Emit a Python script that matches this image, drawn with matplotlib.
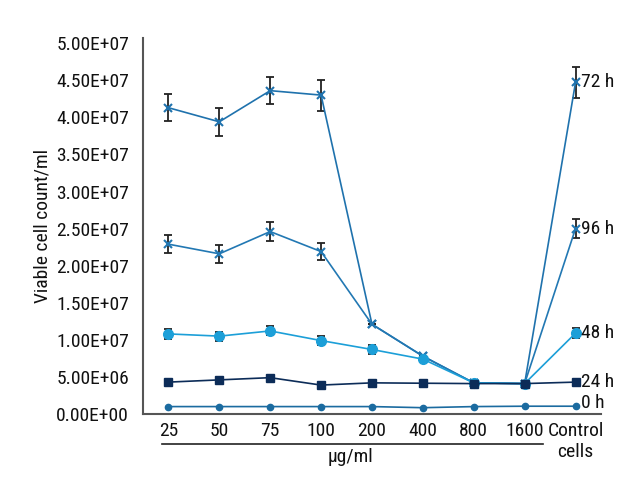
import matplotlib
matplotlib.use("Agg")
import matplotlib.pyplot as plt
import matplotlib.transforms as mtransforms
import numpy as np

plt.rcParams['font.family'] = ['Roboto Condensed', 'Open Sans Condensed', 'PT Sans Narrow', 'DejaVu Sans']

categories = ["25", "50", "75", "100", "200", "400", "800", "1600", "Control\ncells"]
series_names = ["72 h", "96 h", "48 h", "24 h", "0 h"]

v72 = [4.13e7, 3.94e7, 4.36e7, 4.30e7, 1.21e7, 7.8e6, 4.2e6, 4.1e6, 4.47e7]
e72 = [1.8e6, 1.9e6, 1.8e6, 2.1e6, 0, 0, 0, 0, 2.1e6]
v96 = [2.29e7, 2.16e7, 2.46e7, 2.19e7, 1.21e7, 7.8e6, 4.2e6, 4.1e6, 2.50e7]
e96 = [1.2e6, 1.2e6, 1.3e6, 1.1e6, 0, 0, 0, 0, 1.3e6]
v48 = [1.08e7, 1.05e7, 1.12e7, 9.9e6, 8.7e6, 7.4e6, 4.2e6, 4.1e6, 1.09e7]
e48 = [7e5, 6e5, 6e5, 6e5, 6e5, 0, 0, 0, 7e5]
v24 = [4.3e6, 4.6e6, 4.9e6, 3.9e6, 4.2e6, 4.15e6, 4.1e6, 4.1e6, 4.3e6]
v0 = [1.0e6, 1.0e6, 1.0e6, 1.0e6, 1.0e6, 0.85e6, 1.0e6, 1.05e6, 1.05e6]

yticks = np.arange(0, 5.01e7, 5e6)
ytick_labels = ["0.00E+00", "5.00E+06", "1.00E+07", "1.50E+07", "2.00E+07",
                "2.50E+07", "3.00E+07", "3.50E+07", "4.00E+07", "4.50E+07", "5.00E+07"]

fig = plt.figure(figsize=(6.4, 5.0), dpi=100)
ax = fig.add_axes([0.2234, 0.172, 0.7156, 0.752])
x = np.arange(len(categories))

c72 = "#1f72ad"
c96 = "#2278b3"
c48 = "#1c9fd8"
c24 = "#0c2c58"
c0 = "#1b6ba0"

def draw(vals, errs, color, marker, ms, mew=1.0):
    if errs is not None:
        ax.errorbar(x, vals, yerr=errs, fmt="none", ecolor="#222222", elinewidth=1.3,
                    capsize=3, capthick=1.3, zorder=2)
    ax.plot(x, vals, color=color, marker=marker, markersize=ms, linewidth=1.2,
            markeredgewidth=mew, zorder=3)

draw(v72, e72, c72, "x", 6, 1.5)
draw(v96, e96, c96, "x", 6, 1.5)
draw(v48, e48, c48, "o", 7)
draw(v24, None, c24, "s", 5.5)
draw(v0, None, c0, "o", 4.5)

label_vals = [v72[-1], v96[-1], v48[-1], v24[-1], v0[-1] + 4e5]
for name, val in zip(series_names, label_vals):
    ax.annotate(name, xy=(x[-1], val), xytext=(4, 0), textcoords="offset points",
                ha="left", va="center", fontsize=14, color="#111111", annotation_clip=False)

ax.set_xlim(-0.5, len(categories) - 0.5)
ax.set_ylim(0, 5.07e7)
ax.set_yticks(yticks)
ax.set_yticklabels(ytick_labels)
ax.set_xticks(x)
ax.set_xticklabels(categories)
ax.tick_params(axis="both", length=0, labelsize=14, colors="#111111")
ax.tick_params(axis="y", pad=10)
ax.tick_params(axis="x", pad=6)
for s in ["top", "right"]:
    ax.spines[s].set_visible(False)
for s in ["left", "bottom"]:
    ax.spines[s].set_color("#555555")
    ax.spines[s].set_linewidth(1.5)

ax.set_ylabel("Viable cell count/ml", fontsize=14, color="#111111")
ax.yaxis.set_label_coords(-0.2, 0.5)

trans = mtransforms.blended_transform_factory(ax.transData, ax.transAxes)
ax.plot([-0.13, 7.37], [-0.08, -0.08], color="#222222", linewidth=1.2,
        transform=trans, clip_on=False)
ax.text(3.57, -0.115, "μg/ml", transform=trans, ha="center", va="center",
        fontsize=14, color="#111111")

fig.savefig("out.png", dpi=100)
